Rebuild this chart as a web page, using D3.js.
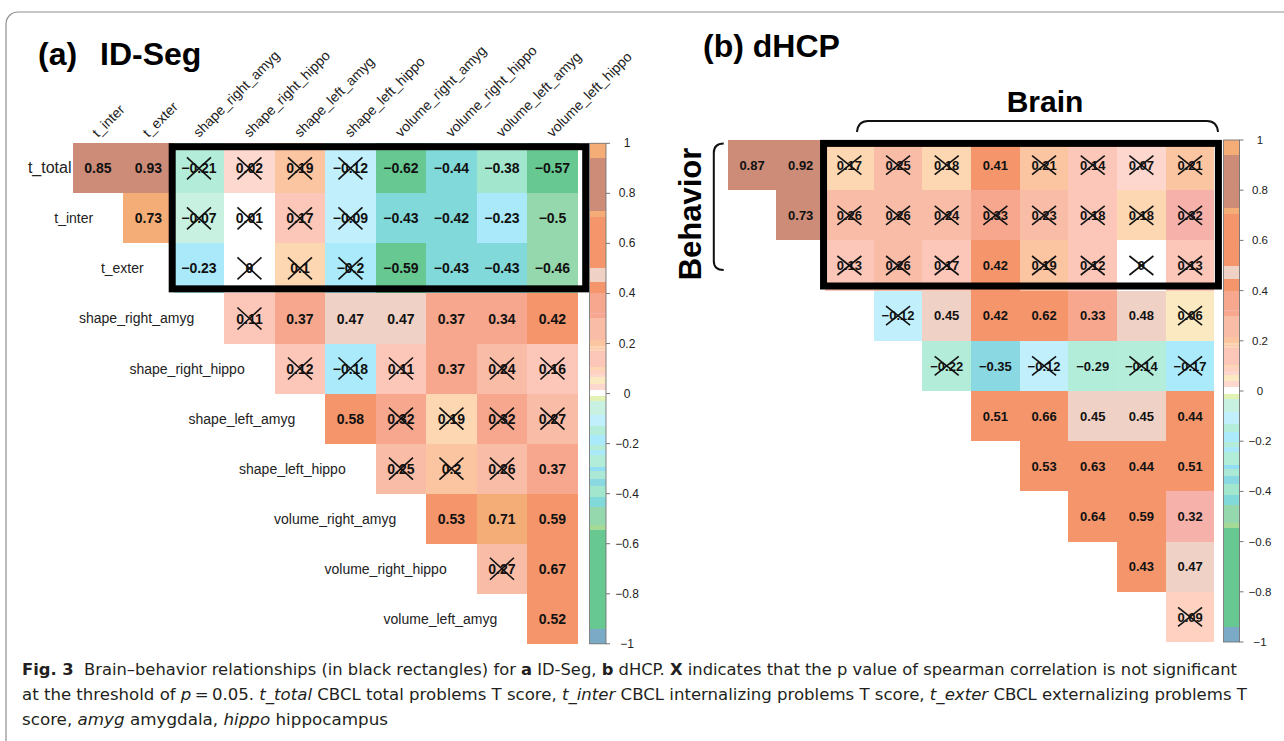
<!DOCTYPE html>
<html><head><meta charset="utf-8">
<script src="https://cdn.jsdelivr.net/npm/d3@7"></script>
<style>
body{margin:0;background:#fff}
svg{display:block}
text{font-family:"Liberation Sans",Arial,Helvetica,sans-serif}
.cap{font-family:"Liberation Sans Narrow","DejaVu Sans Condensed","Liberation Sans",Arial,sans-serif}
</style>
</head><body>
<svg id="c" width="1284" height="741"></svg>
<script>
// ---------------- data ----------------
const variables = ["t_total","t_inter","t_exter","shape_right_amyg","shape_right_hippo",
  "shape_left_amyg","shape_left_hippo","volume_right_amyg","volume_right_hippo",
  "volume_left_amyg","volume_left_hippo"];

// upper-triangle rows (row i holds columns i+1 .. 10)
const valuesA = [
  [0.85, 0.93, -0.21, 0.02, 0.192, -0.12, -0.62, -0.44, -0.38, -0.57],
  [0.726, -0.07, 0.01, 0.168, -0.09, -0.43, -0.42, -0.23, -0.5],
  [-0.23, 0, 0.1, -0.2, -0.59, -0.43, -0.43, -0.46],
  [0.11, 0.37, 0.47, 0.47, 0.37, 0.34, 0.42],
  [0.12, -0.18, 0.11, 0.37, 0.24, 0.16],
  [0.58, 0.316, 0.187, 0.316, 0.27],
  [0.25, 0.2, 0.26, 0.37],
  [0.53, 0.71, 0.59],
  [0.27, 0.67],
  [0.52]
];
const notSigA = [
  [0,0,1,1,1,1,0,0,0,0],
  [0,1,1,1,1,0,0,0,0],
  [0,1,1,1,0,0,0,0],
  [1,0,0,0,0,0,0],
  [1,1,1,0,1,1],
  [0,1,1,1,1],
  [1,1,1,0],
  [0,0,0],
  [1,0],
  [0]
];
const valuesB = [
  [0.87, 0.92, 0.174, 0.25, 0.184, 0.41, 0.21, 0.14, 0.07, 0.21],
  [0.734, 0.26, 0.26, 0.24, 0.33, 0.23, 0.18, 0.183, 0.32],
  [0.13, 0.26, 0.166, 0.42, 0.193, 0.12, 0, 0.13],
  [-0.12, 0.45, 0.42, 0.62, 0.33, 0.48, 0.06],
  [-0.22, -0.35, -0.12, -0.29, -0.14, -0.17],
  [0.51, 0.66, 0.45, 0.45, 0.44],
  [0.53, 0.63, 0.44, 0.51],
  [0.64, 0.59, 0.32],
  [0.43, 0.47],
  [0.09]
];
const notSigB = [
  [0,0,1,1,1,0,1,1,1,1],
  [0,1,1,1,1,1,1,1,1],
  [1,1,1,0,1,1,1,1],
  [1,0,0,0,0,0,1],
  [1,0,1,0,1,1],
  [0,0,0,0,0],
  [0,0,0,0],
  [0,0,0],
  [0,0],
  [1]
];

// colour legend palette: band lower bounds (after -1) and band colours
const paletteBreaks = [-0.94,-0.545,-0.525,-0.455,-0.415,-0.37,-0.34,-0.31,-0.295,-0.245,
  -0.225,-0.205,-0.165,-0.13,-0.085,-0.03,-0.01,0.015,0.04,0.065,0.08,0.095,0.105,0.171,
  0.178,0.182,0.19,0.215,0.30,0.317,0.323,0.40,0.445,0.50,0.705,0.73,0.94];
const paletteColors = ["#7aaac6","#67c891","#a4d996","#95d8ad","#82d9da","#a2e6cd","#8ad9e2",
  "#abe9d6","#92def2","#b2edd9","#a9e9f9","#b3edd9","#aaeafa","#b4eedb","#c1effb","#c9f1e2",
  "#e2f2b4","#ffffff","#fdd8cf","#fbe9c2","#fdd6cd","#fed1c0","#fdd7b2","#fcc7b9","#fdd7b2",
  "#fcc7b9","#fdd7b2","#fcc5a2","#f9bca7","#f7a78d","#f6b1aa","#f7a78d","#f4956b","#f0d1c5",
  "#f4956b","#f5ad77","#cc8c78","#f5ad77"];
const legendTicks = [1,0.8,0.6,0.4,0.2,0,-0.2,-0.4,-0.6,-0.8,-1];

// ---------------- drawing ----------------
const svg = d3.select("#c");
const color = d3.scaleThreshold().domain(paletteBreaks).range(paletteColors);
const fmt = v => { const r = Math.round(v*100)/100; return (r===0? "0" : String(r)).replace("-", "\u2212"); };

// outer frame
svg.append("rect").attr("x",6).attr("y",12).attr("width",1400).attr("height",760)
  .attr("rx",12).attr("fill","none").attr("stroke","#8e8e8e").attr("stroke-width",1.2);

function panel(o){
  const g = svg.append("g");
  const x = d3.scaleBand().domain(variables.slice(1)).range(o.xr);
  const y = d3.scaleBand().domain(variables.slice(0,-1)).range(o.yr);
  const cells = [];
  o.values.forEach((row,i)=>row.forEach((v,k)=>{
    cells.push({r:variables[i], c:variables[i+1+k], v, ns:o.ns[i][k]});
  }));
  const bw = x.bandwidth(), bh = y.bandwidth();
  g.selectAll("rect.cell").data(cells).join("rect").attr("class","cell")
    .attr("x",d=>x(d.c)).attr("y",d=>y(d.r)).attr("width",bw).attr("height",bh)
    .attr("fill",d=>color(d.v)).attr("shape-rendering","crispEdges");
  g.selectAll("text.val").data(cells).join("text").attr("class","val")
    .attr("x",d=>x(d.c)+bw/2).attr("y",d=>y(d.r)+bh/2+o.fs*0.36)
    .attr("text-anchor","middle").attr("font-weight","bold").attr("font-size",o.fs)
    .attr("fill","#111").text(d=>fmt(d.v));
  const ns = cells.filter(d=>d.ns);
  [[-1,-1,1,1],[-1,1,1,-1]].forEach(s=>{
    g.selectAll(null).data(ns).join("line")
      .attr("x1",d=>x(d.c)+bw/2+s[0]*o.xw).attr("y1",d=>y(d.r)+bh/2+s[1]*o.xh)
      .attr("x2",d=>x(d.c)+bw/2+s[2]*o.xw).attr("y2",d=>y(d.r)+bh/2+s[3]*o.xh)
      .attr("stroke","#111").attr("stroke-width",1.6);
  });
  // black rectangle around brain-behaviour block
  const bx0 = x(variables[3]) - 1.5, bx1 = x(variables[10]) + bw + o.boxR;
  const by0 = y(variables[0]) + 3.4, by1 = y(variables[2]) + bh - 4.6;
  g.append("rect").attr("x",bx0).attr("y",by0).attr("width",bx1-bx0).attr("height",by1-by0)
    .attr("fill","none").attr("stroke","#000").attr("stroke-width",7);
  // colour legend
  const cy = d3.scaleLinear().domain([-1,1]).range([o.yr[1], o.yr[0]]);
  const edges = [-1, ...paletteBreaks, 1];
  const bands = paletteColors.map((c,i)=>({lo:edges[i], hi:edges[i+1], c}));
  g.selectAll("rect.cb").data(bands).join("rect").attr("class","cb")
    .attr("x",o.cb[0]).attr("width",o.cb[1]-o.cb[0])
    .attr("y",d=>cy(d.hi)).attr("height",d=>cy(d.lo)-cy(d.hi))
    .attr("fill",d=>d.c).attr("shape-rendering","crispEdges");
  g.append("rect").attr("x",o.cb[0]).attr("y",cy(1)).attr("width",o.cb[1]-o.cb[0])
    .attr("height",cy(-1)-cy(1)).attr("fill","none").attr("stroke","#777").attr("stroke-width",0.9);
  g.selectAll("line.tk").data(legendTicks).join("line").attr("class","tk")
    .attr("x1",o.cb[1]).attr("x2",o.cb[1]+4).attr("y1",d=>cy(d)).attr("y2",d=>cy(d))
    .attr("stroke","#666").attr("stroke-width",0.9);
  g.selectAll("text.tl").data(legendTicks).join("text").attr("class","tl")
    .attr("x",o.cbLab).attr("y",d=>cy(d)+4).attr("text-anchor","middle")
    .attr("font-size",o.cbFs).attr("fill","#222").text(d=>String(d).replace("-","\u2212"));
  return {g,x,y,bw,bh};
}

const A = panel({values:valuesA, ns:notSigA, xr:[72.7,577.7], yr:[143.3,643.8], fs:14,
  xw:12, xh:11, boxR:8, cb:[589.5,606], cbLab:627, cbFs:12});
const B = panel({values:valuesB, ns:notSigB, xr:[727.7,1214.4], yr:[140,642], fs:13,
  xw:12, xh:9.5, boxR:4, cb:[1223.5,1239.5], cbLab:1260, cbFs:11.5});

// panel (a) labels
A.g.selectAll("text.rl").data(variables.slice(0,-1)).join("text").attr("class","rl")
  .attr("x",(d,i)=> i===0 ? 71.5 : A.x(variables[i+1]) - 30)
  .attr("y",d=>A.y(d)+A.bh/2+5).attr("text-anchor","end")
  .attr("font-size",(d,i)=> i===0 ? 16 : 14).attr("fill","#222").text(d=>d);
A.g.selectAll("text.cl").data(variables.slice(1)).join("text").attr("class","cl")
  .attr("transform",d=>`translate(${A.x(d)+A.bw/2},138) rotate(-45)`)
  .attr("font-size",14).attr("fill","#222").text(d=>d);

// titles
svg.append("text").attr("x",38).attr("y",65).attr("font-size",32).attr("font-weight","bold").text("(a)");
svg.append("text").attr("x",100).attr("y",65).attr("font-size",32).attr("font-weight","bold").text("ID-Seg");
svg.append("text").attr("x",703).attr("y",56.5).attr("font-size",32).attr("font-weight","bold").text("(b) dHCP");
svg.append("text").attr("x",1045).attr("y",112).attr("text-anchor","middle").attr("font-size",30)
  .attr("font-weight","bold").text("Brain");
svg.append("text").attr("transform","translate(701,214) rotate(-90)").attr("text-anchor","middle")
  .attr("font-size",31).attr("font-weight","bold").text("Behavior");
svg.append("path").attr("d","M857,132 Q858,121 868,121 L1207,121 Q1217,121 1218,132")
  .attr("fill","none").attr("stroke","#111").attr("stroke-width",2);
svg.append("path").attr("d","M723.7,143.5 Q713.8,143.5 713.8,153 L713.8,261 Q713.8,270 723.7,270")
  .attr("fill","none").attr("stroke","#111").attr("stroke-width",2);

// caption
const capLines = [
  {y:675, w:1215, parts:[["Fig. 3","b"],["  Brain\u2013behavior relationships (in black rectangles) for ",""],["a","b"],[" ID-Seg, ",""],["b","b"],[" dHCP. ",""],["X","b"],[" indicates that the p value of spearman correlation is not significant",""]]},
  {y:700, w:1225, parts:[["at the threshold of ",""],["p","i"],["\u2009=\u20090.05. ",""],["t_total","i"],[" CBCL total problems T score, ",""],["t_inter","i"],[" CBCL internalizing problems T score, ",""],["t_exter","i"],[" CBCL externalizing problems T",""]]},
  {y:725, w:366, parts:[["score, ",""],["amyg","i"],[" amygdala, ",""],["hippo","i"],[" hippocampus",""]]}
];
capLines.forEach(L=>{
  const t = svg.append("text").attr("class","cap").attr("x",22).attr("y",L.y)
    .attr("font-size",16.5).attr("fill","#231f20")
    .attr("textLength",L.w).attr("lengthAdjust","spacingAndGlyphs").attr("xml:space","preserve");
  L.parts.forEach(p=>{
    t.append("tspan").attr("font-weight",p[1]==="b"?"bold":null)
     .attr("font-style",p[1]==="i"?"italic":null).text(p[0]);
  });
});
</script>
</body></html>
